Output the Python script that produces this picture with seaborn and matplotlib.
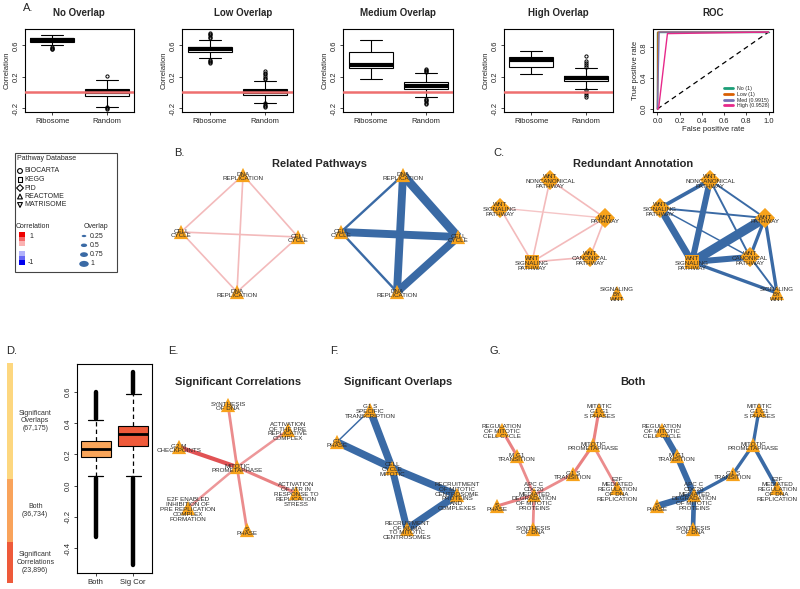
import matplotlib
matplotlib.use('Agg')
import matplotlib.pyplot as plt
from matplotlib.colors import LinearSegmentedColormap
from matplotlib.patches import Rectangle, Ellipse
import seaborn as sns
import pandas as pd

sns.set_theme(style='ticks', rc={'axes.linewidth': 0.8, 'axes.edgecolor': 'black'})
plt.rcParams['font.family'] = ['Liberation Sans', 'DejaVu Sans']

# --- A. boxplots: correlation of ribosome vs random gene sets ---
overlap_panels = ['No Overlap', 'Low Overlap', 'Medium Overlap', 'High Overlap']
box_groups = ['Ribosome', 'Random']
box_q1 = [[0.65, -0.04], [0.515, -0.03], [0.31, 0.05], [0.325, 0.145]]
box_med = [[0.675, 0.0], [0.55, 0.0], [0.355, 0.085], [0.42, 0.18]]
box_q3 = [[0.70, 0.045], [0.585, 0.04], [0.51, 0.135], [0.45, 0.21]]
box_lo = [[0.60, -0.18], [0.435, -0.13], [0.175, -0.06], [0.23, 0.05]]
box_hi = [[0.735, 0.165], [0.665, 0.15], [0.67, 0.245], [0.535, 0.31]]
box_fliers = [
    [[0.585, 0.57, 0.56, 0.55], [0.21, -0.19, -0.2, -0.21]],
    [[0.69, 0.71, 0.73, 0.75, 0.765, 0.42, 0.40, 0.385, 0.375],
     [0.17, 0.19, 0.21, 0.23, 0.25, 0.275, -0.14, -0.155, -0.17, -0.185]],
    [[], [0.26, 0.275, 0.29, 0.30, -0.08, -0.095, -0.11, -0.13, -0.15]],
    [[], [0.33, 0.35, 0.37, 0.40, 0.46, 0.03, 0.01, -0.01, -0.035, -0.06]],
]

# ROC curves
roc_models = ['No (1)', 'Low (1)', 'Med (0.9915)', 'High (0.9528)']
roc_fpr = [[0, 0, 1], [0, 0.005, 1], [0, 0.015, 1], [0, 0.01, 0.09, 1]]
roc_tpr = [[0, 1, 1], [0, 1, 1], [0, 1, 1], [0, 0, 0.98, 1]]

# --- D. counts and correlation distributions ---
count_labels = ['Significant\nCorrelations\n(23,896)', 'Both\n(36,734)', 'Significant\nOverlaps\n(67,175)']
count_values = [23896, 36734, 67175]
d_groups = ['Both', 'Sig Cor']
d_q1 = [0.186, 0.255]
d_med = [0.235, 0.332]
d_q3 = [0.286, 0.385]
d_lo = [0.06, 0.06]
d_hi = [0.42, 0.585]
d_flier_upper = [(0.43, 0.60), (0.595, 0.73)]
d_flier_lower = [(-0.33, 0.05), (-0.51, 0.05)]

# --- networks ---
db_markers = {'BIOCARTA': 'o', 'KEGG': 's', 'PID': 'D', 'REACTOME': '^', 'MATRISOME': 'v'}
corr_scale = [1, 0.6, 0.3, 0, -0.3, -0.6, -1]
overlap_scale = [0.25, 0.5, 0.75, 1]

b_nodes = {'dna1': ('DNA\nREPLICATION', 'REACTOME'), 'cc1': ('CELL\nCYCLE', 'REACTOME'),
           'cc2': ('CELL\nCYCLE', 'REACTOME'), 'dna2': ('DNA\nREPLICATION', 'REACTOME')}
b_edges = [('dna1', 'cc1'), ('dna1', 'cc2'), ('dna1', 'dna2'), ('cc1', 'cc2'), ('cc1', 'dna2'), ('cc2', 'dna2')]
b_corr = [0.3, 0.3, 0.3, 0.3, 0.3, 0.3]
b_overlap = [0.2, 0.9, 0.8, 0.8, 0.2, 0.8]

c_nodes = {'noncan': ('WNT\nNONCANONICAL\nPATHWAY', 'PID'), 'sig1': ('WNT\nSIGNALING\nPATHWAY', 'PID'),
           'wntp': ('WNT\nPATHWAY', 'PID'), 'sig2': ('WNT\nSIGNALING\nPATHWAY', 'KEGG'),
           'canon': ('WNT\nCANONICAL\nPATHWAY', 'PID'), 'sbw': ('SIGNALING\nBY\nWNT', 'REACTOME')}
c_corr_edges = [('noncan', 'wntp'), ('noncan', 'sig2'), ('sig1', 'wntp'), ('sig1', 'sig2'),
                ('sig2', 'wntp'), ('sig2', 'canon'), ('canon', 'wntp')]
c_corr = [0.3, 0.3, 0.25, 0.3, 0.3, 0.3, 0.3]
c_ov_edges = [('noncan', 'sig1'), ('noncan', 'sig2'), ('noncan', 'wntp'), ('noncan', 'canon'),
              ('sig1', 'sig2'), ('sig1', 'wntp'), ('sig1', 'canon'), ('sig2', 'wntp'),
              ('sig2', 'canon'), ('sig2', 'sbw'), ('wntp', 'canon'), ('wntp', 'sbw'), ('canon', 'sbw')]
c_overlap = [0.35, 0.6, 0.15, 0.15, 0.7, 0.15, 0.1, 0.95, 0.6, 0.3, 0.3, 0.3, 0.15]

e_nodes = {'syn': ('SYNTHESIS\nOF DNA', 'REACTOME'),
           'act': ('ACTIVATION\nOF THE PRE\nREPLICATIVE\nCOMPLEX', 'REACTOME'),
           'g2m': ('G2 M\nCHECKPOINTS', 'REACTOME'), 'mit': ('MITOTIC\nPROMETAPHASE', 'REACTOME'),
           'atr': ('ACTIVATION\nOF ATR IN\nRESPONSE TO\nREPLICATION\nSTRESS', 'REACTOME'),
           'e2f': ('E2F ENABLED\nINHIBITION OF\nPRE REPLICATION\nCOMPLEX\nFORMATION', 'REACTOME'),
           'sph': ('S\nPHASE', 'REACTOME')}
e_edges = [('mit', 'syn'), ('mit', 'act'), ('mit', 'g2m'), ('mit', 'atr'), ('mit', 'e2f'), ('mit', 'sph')]
e_corr = [0.5, 0.45, 0.75, 0.55, 0.45, 0.5]

f_nodes = {'g1s': ('G1 S\nSPECIFIC\nTRANSCRIPTION', 'REACTOME'), 'g1p': ('G1\nPHASE', 'REACTOME'),
           'ccm': ('CELL\nCYCLE\nMITOTIC', 'REACTOME'),
           'rec': ('RECRUITMENT\nOF MITOTIC\nCENTROSOME\nPROTEINS\nAND\nCOMPLEXES', 'REACTOME'),
           'numa': ('RECRUITMENT\nOF NUMA\nTO MITOTIC\nCENTROSOMES', 'REACTOME')}
f_edges = [('g1s', 'g1p'), ('g1s', 'ccm'), ('g1p', 'ccm'), ('ccm', 'rec'), ('ccm', 'numa'), ('rec', 'numa')]
f_overlap = [0.1, 0.75, 0.75, 0.75, 0.7, 0.75]

g_nodes = {'mg1s': ('MITOTIC\nG1 G1\nS PHASES', 'REACTOME'),
           'reg': ('REGULATION\nOF MITOTIC\nCELL CYCLE', 'REACTOME'),
           'prom': ('MITOTIC\nPROMETAPHASE', 'REACTOME'), 'mg1': ('M G1\nTRANSITION', 'REACTOME'),
           'g1st': ('G1 S\nTRANSITION', 'REACTOME'),
           'e2fm': ('E2F\nMEDIATED\nREGULATION\nOF DNA\nREPLICATION', 'REACTOME'),
           'apc': ('APC C\nCDC20\nMEDIATED\nDEGRADATION\nOF MITOTIC\nPROTEINS', 'REACTOME'),
           'sph': ('S\nPHASE', 'REACTOME'), 'syn': ('SYNTHESIS\nOF DNA', 'REACTOME')}
g_edges = [('mg1s', 'prom'), ('prom', 'g1st'), ('prom', 'e2fm'), ('g1st', 'apc'),
           ('reg', 'mg1'), ('mg1', 'apc'), ('apc', 'sph'), ('apc', 'syn')]
g_corr = [0.55, 0.55, 0.5, 0.5, 0.55, 0.5, 0.55, 0.5]
g_overlap = [0.3, 0.3, 0.35, 0.3, 0.6, 0.6, 0.65, 0.45]

# node layouts (figure pixel coordinates)
b_pos = {'dna1': (243, 175), 'cc1': (181, 232), 'cc2': (298, 237), 'dna2': (237, 292)}
c_pos = {'noncan': (550, 180), 'sig1': (500, 208), 'wntp': (605, 218),
         'sig2': (532, 262), 'canon': (590, 257), 'sbw': (617, 293)}
e_pos = {'syn': (228, 405), 'act': (288, 430), 'g2m': (179, 447), 'mit': (237, 467),
         'atr': (296, 493), 'e2f': (188, 508), 'sph': (247, 530)}
f_pos = {'g1s': (370, 410), 'g1p': (337, 442), 'ccm': (392, 468), 'rec': (457, 495), 'numa': (407, 529)}
g_pos = {'mg1s': (599, 410), 'reg': (502, 430), 'prom': (593, 445), 'mg1': (517, 456),
         'g1st': (573, 474), 'e2fm': (617, 488), 'apc': (534, 495), 'sph': (497, 506), 'syn': (533, 529)}

W, H = 800, 589
fig = plt.figure(figsize=(8, 5.89), dpi=100)


def px_axes(l, t, r, b):
    return fig.add_axes([l / W, 1 - b / H, (r - l) / W, (b - t) / H])


red_line = '#ee6f6f'
orange = '#f7a21b'
blue = '#3a6aa5'
corr_cmap = LinearSegmentedColormap.from_list('corr', ['#ffffff', '#d7191c'])
rwb = LinearSegmentedColormap.from_list('rwb', ['#0000ee', '#ffffff', '#ee0000'])


def style_box_axes(ax, ylim, yticks):
    ax.set_ylim(*ylim)
    ax.set_yticks(yticks)
    ax.set_yticklabels([f'{t:.1f}' for t in yticks], rotation=90, va='center')
    ax.tick_params(labelsize=5.5, length=2.5, width=0.6, pad=1.5)
    for s in ax.spines.values():
        s.set_linewidth(0.8)


# --- top row boxplots ---
top_boxes = [(25, 29, 134, 112), (182, 29, 293, 112), (343, 29, 453, 112), (504, 29, 613, 112)]
title_x = [79, 243, 398, 558]
for i, name in enumerate(overlap_panels):
    ax = px_axes(*top_boxes[i])
    stats = []
    for j, g in enumerate(box_groups):
        stats.append({'label': g, 'med': box_med[i][j], 'q1': box_q1[i][j], 'q3': box_q3[i][j],
                      'whislo': box_lo[i][j], 'whishi': box_hi[i][j], 'fliers': box_fliers[i][j]})
    ax.bxp(stats, positions=[1, 2], widths=0.8, capwidths=0.4, patch_artist=True,
           boxprops=dict(facecolor='white', edgecolor='black', lw=0.8),
           medianprops=dict(color='black', lw=3),
           whiskerprops=dict(color='black', lw=0.8), capprops=dict(color='black', lw=0.8),
           flierprops=dict(marker='o', ms=2.3, mfc='none', mec='black', mew=0.7))
    ax.axhline(0, color=red_line, lw=1.8, zorder=4)
    ax.set_xlim(0.5, 2.5)
    style_box_axes(ax, (-0.25, 0.81), [-0.2, 0.2, 0.6])
    ax.set_ylabel('Correlation', fontsize=5.5, labelpad=1)
    fig.text(title_x[i] / W, 1 - 13 / H, name, ha='center', va='center', fontsize=7, fontweight='bold')

# ROC
ax = px_axes(653, 29, 773, 112)
roc_df = pd.DataFrame([(m, x, y, k) for m, xs, ys in zip(roc_models, roc_fpr, roc_tpr)
                       for k, (x, y) in enumerate(zip(xs, ys))], columns=['model', 'fpr', 'tpr', 'step'])
ax.plot([0, 1], [0, 1], color='black', ls=(0, (4, 3)), lw=0.9)
sns.lineplot(data=roc_df, x='fpr', y='tpr', hue='model', hue_order=roc_models,
             palette=['#1b9e77', '#d95f02', '#7570b3', '#e7298a'], estimator=None, sort=False,
             lw=1.0, ax=ax)
ax.set_xlim(-0.04, 1.04)
ax.set_xticks([0, 0.2, 0.4, 0.6, 0.8, 1.0])
ax.set_xticklabels([f'{t:.1f}' for t in [0, 0.2, 0.4, 0.6, 0.8, 1.0]])
style_box_axes(ax, (-0.04, 1.04), [0.0, 0.4, 0.8])
ax.set_xlabel('False positive rate', fontsize=5.5, labelpad=1)
ax.set_ylabel('True positive rate', fontsize=5.5, labelpad=1)
leg = ax.legend(loc='lower right', fontsize=3.8, frameon=False, handlelength=1.6,
                labelspacing=0.15, borderaxespad=0.3)
for h in leg.get_lines():
    h.set_linewidth(2)
fig.text(713 / W, 1 - 13 / H, 'ROC', ha='center', va='center', fontsize=7, fontweight='bold')

# --- D: stacked count bar ---
ax_bar = px_axes(7, 363, 13, 583)
bottom = 0
bar_colors = ['#ee5a3a', '#f9a35b', '#fdd77f']
for lab, v, c in zip(count_labels, count_values, bar_colors):
    ax_bar.bar(0, v, bottom=bottom, width=1, color=c, lw=0)
    ax_bar.text(4.7, bottom + v / 2, lab, transform=ax_bar.get_yaxis_transform(),
                ha='center', va='center', fontsize=5, color='#333333', linespacing=1.15)
    bottom += v
ax_bar.set_xlim(-0.5, 0.5)
ax_bar.set_ylim(0, bottom)
ax_bar.axis('off')

# D: boxplot
ax = px_axes(77, 364, 152, 573)
stats = [{'label': g, 'med': d_med[j], 'q1': d_q1[j], 'q3': d_q3[j], 'whislo': d_lo[j],
          'whishi': d_hi[j], 'fliers': []} for j, g in enumerate(d_groups)]
bp = ax.bxp(stats, positions=[1, 2], widths=0.8, capwidths=0.4, patch_artist=True,
            boxprops=dict(edgecolor='black', lw=0.8), medianprops=dict(color='black', lw=2),
            whiskerprops=dict(color='black', lw=0.9, ls=(0, (3.5, 2.5))),
            capprops=dict(color='black', lw=0.9))
for patch, c in zip(bp['boxes'], ['#f9a55a', '#ef5a3a']):
    patch.set_facecolor(c)
for j in range(len(d_groups)):
    for lo, hi in (d_flier_upper[j], d_flier_lower[j]):
        ax.vlines(j + 1, lo, hi, color='black', lw=3.2, capstyle='round')
ax.set_xlim(0.5, 2.5)
style_box_axes(ax, (-0.56, 0.78), [-0.4, -0.2, 0.0, 0.2, 0.4, 0.6])

# correlation colour key (legend panel)
ax_key = px_axes(19, 232, 25, 265)
sns.heatmap(pd.DataFrame({'corr': corr_scale}), cmap=rwb, vmin=-1, vmax=1, cbar=False,
            xticklabels=False, yticklabels=False, ax=ax_key)

# --- overlay in pixel coordinates for networks, titles and legend ---
net = fig.add_axes([0, 0, 1, 1])
net.patch.set_visible(False)


def draw_network(nodes, pos, edges, weights, kind, dx=0):
    for (a, b), w in zip(edges, weights):
        xs = [pos[a][0] + dx, pos[b][0] + dx]
        ys = [pos[a][1], pos[b][1]]
        if kind == 'corr':
            net.plot(xs, ys, color=corr_cmap(w), lw=4 * w, solid_capstyle='butt', zorder=2)
        else:
            net.plot(xs, ys, color=blue, lw=0.4 + 6.6 * w, solid_capstyle='butt', zorder=2)
    df = pd.DataFrame({'x': [pos[k][0] + dx for k in nodes], 'y': [pos[k][1] for k in nodes],
                       'db': [nodes[k][1] for k in nodes]})
    sns.scatterplot(data=df, x='x', y='y', style='db', markers=db_markers, color=orange,
                    s=105, linewidth=0, legend=False, ax=net, zorder=3)
    for k, (lab, _) in nodes.items():
        net.text(pos[k][0] + dx, pos[k][1] + 1.5, lab, ha='center', va='center', fontsize=4.5,
                 color='#2a2a2a', linespacing=0.95, zorder=4)


draw_network(b_nodes, b_pos, b_edges, b_corr, 'corr')
draw_network(b_nodes, b_pos, b_edges, b_overlap, 'overlap', dx=160)
draw_network(c_nodes, c_pos, c_corr_edges, c_corr, 'corr')
draw_network(c_nodes, c_pos, c_ov_edges, c_overlap, 'overlap', dx=160)
draw_network(e_nodes, e_pos, e_edges, e_corr, 'corr')
draw_network(f_nodes, f_pos, f_edges, f_overlap, 'overlap')
draw_network(g_nodes, g_pos, g_edges, g_corr, 'corr')
draw_network(g_nodes, g_pos, g_edges, g_overlap, 'overlap', dx=160)

for txt, x, y in [('Related Pathways', 320, 164), ('Redundant Annotation', 633, 164),
                  ('Significant Correlations', 238, 382), ('Significant Overlaps', 398, 382),
                  ('Both', 633, 382)]:
    net.text(x, y, txt, ha='center', va='center', fontsize=8, fontweight='bold')
for txt, x, y in [('A.', 23, 8), ('B.', 174, 153), ('C.', 493, 153), ('D.', 6, 351),
                  ('E.', 168, 351), ('F.', 330, 351), ('G.', 490, 351)]:
    net.text(x, y, txt, ha='left', va='center', fontsize=8)

# legend panel
net.add_patch(Rectangle((15, 153), 102, 119, fill=False, lw=0.8, ec='#444444'))
net.text(17, 158, 'Pathway Database', ha='left', va='center', fontsize=5)
for k, (db, mk) in enumerate(db_markers.items()):
    y = 171 + 8.5 * k
    net.scatter([20], [y], marker=mk, s=12, facecolor='none', edgecolor='black', lw=0.8)
    net.text(24, y, db, ha='left', va='center', fontsize=5)
net.text(16, 226, 'Correlation', ha='left', va='center', fontsize=5)
net.text(29, 236, '1', ha='left', va='center', fontsize=5)
net.text(28, 262, '-1', ha='left', va='center', fontsize=5)
net.text(96, 226, 'Overlap', ha='center', va='center', fontsize=5)
for k, ov in enumerate(overlap_scale):
    y = 236 + 9.3 * k
    net.add_patch(Ellipse((84, y), 3 + 6.5 * ov, 1 + 5 * ov, color=blue, lw=0))
    net.text(90, y, f'{ov:g}', ha='left', va='center', fontsize=5)

net.set_xlim(0, W)
net.set_ylim(H, 0)
net.axis('off')

fig.savefig('out.png', dpi=100)
